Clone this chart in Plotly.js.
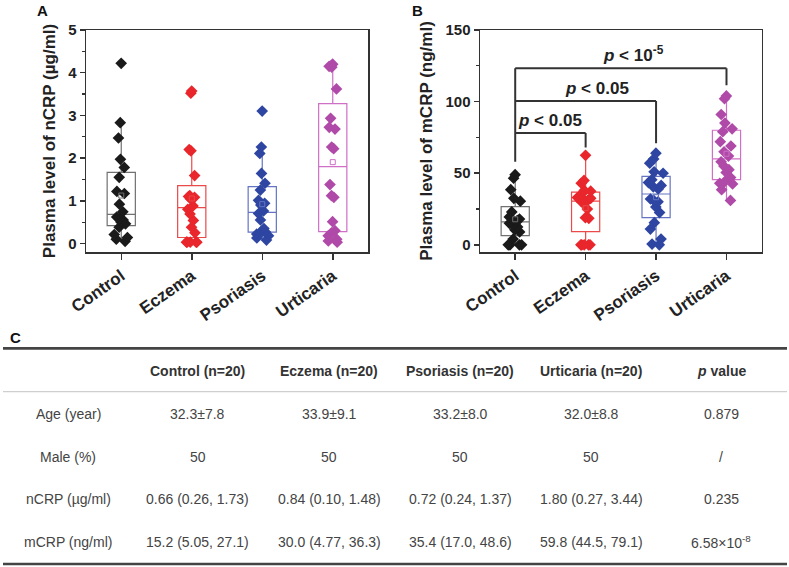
<!DOCTYPE html>
<html><head><meta charset="utf-8">
<script src="https://cdn.plot.ly/plotly-3.0.1.min.js"></script>
<style>html,body{margin:0;padding:0;background:#fff}#chart{width:789px;height:567px}</style>
</head><body><div id="chart"></div>
<script>
// ---------- DATA ----------
const categories = ['Control', 'Eczema', 'Psoriasis', 'Urticaria'];

const nCRP_control   = [4.22, 2.83, 2.47, 1.97, 1.78, 1.55, 1.22, 1.17, 0.92, 0.74, 0.62, 0.58, 0.55, 0.50, 0.46, 0.38, 0.21, 0.14, 0.10, 0.05];
const nCRP_eczema    = [3.57, 3.52, 2.20, 2.17, 1.59, 1.12, 1.10, 1.08, 1.05, 0.88, 0.80, 0.69, 0.54, 0.38, 0.25, 0.03, 0.03, 0.03, 0.03, 0.03];
const nCRP_psoriasis = [3.10, 2.26, 2.11, 1.64, 1.41, 1.25, 1.01, 0.94, 0.90, 0.76, 0.70, 0.55, 0.35, 0.29, 0.27, 0.26, 0.22, 0.18, 0.13, 0.08];
const nCRP_urticaria = [4.20, 4.17, 4.15, 4.13, 3.62, 2.93, 2.72, 2.68, 2.26, 2.22, 1.38, 1.12, 1.08, 0.51, 0.30, 0.25, 0.18, 0.10, 0.06, 0.03];

const mCRP_control   = [49, 46.5, 38.5, 32.5, 30.5, 23, 19.5, 18, 17.5, 17, 15, 14, 12.5, 10.5, 9, 4, 0, 0, 0, 0];
const mCRP_eczema    = [62.5, 45, 43, 38, 37.5, 36, 33, 32.5, 32, 31, 30, 29, 25, 19, 18.5, 0, 0, 0, 0, 0];
const mCRP_psoriasis = [64, 60, 57, 51, 50, 45.5, 43.5, 41.5, 40.5, 39, 32, 31, 30, 26.5, 22.5, 15.5, 11, 4, 0.5, 0];
const mCRP_urticaria = [104, 102, 91, 85, 81, 79, 72, 69, 65, 62, 58, 55, 52.5, 50.5, 47, 44, 43, 42.5, 38.5, 31];

// significance comparisons (panel B): reference group vs target
const sigTargets = ['Eczema', 'Psoriasis', 'Urticaria'];
const sigLevels  = [78, 100.5, 123.3];
const sigEnds    = [68, 71, 111.5];
const sigLabels  = ['<i>p</i> < 0.05', '<i>p</i> < 0.05', '<i>p</i> < 10<sup>-5</sup>'];
const sigRefStart = 58;

// table
const tableHeader = ['', 'Control (n=20)', 'Eczema (n=20)', 'Psoriasis (n=20)', 'Urticaria (n=20)', '<i>p</i> value'];
const rowLabels   = ['Age (year)', 'Male (%)', 'nCRP (µg/ml)', 'mCRP (ng/ml)'];
const rowAge   = ['32.3±7.8', '33.9±9.1', '33.2±8.0', '32.0±8.8', '0.879'];
const rowMale  = ['50', '50', '50', '50', '/'];
const rowNCRP  = ['0.66 (0.26, 1.73)', '0.84 (0.10, 1.48)', '0.72 (0.24, 1.37)', '1.80 (0.27, 3.44)', '0.235'];
const rowMCRP  = ['15.2 (5.05, 27.1)', '30.0 (4.77, 36.3)', '35.4 (17.0, 48.6)', '59.8 (44.5, 79.1)', '6.58×10<sup>-8</sup>'];

// ---------- STYLE / LAYOUT ----------
const W = 789, H = 567;
const FONT = 'Liberation Sans, Arial, sans-serif';
const markerColors = ['#1a1a1a', '#e8262b', '#2e46a2', '#b04aa8'];
const boxColors    = ['#707070', '#ea4a4a', '#6474c2', '#cf6fc6'];
const px = x => x / W;
const py = y => 1 - y / H;

const nData = [nCRP_control, nCRP_eczema, nCRP_psoriasis, nCRP_urticaria];
const mData = [mCRP_control, mCRP_eczema, mCRP_psoriasis, mCRP_urticaria];
const mean = a => a.reduce((s, v) => s + v, 0) / a.length;

const traces = [];
function addPanel(groups, xa, ya) {
  groups.forEach((vals, i) => {
    traces.push({
      type: 'box', y: vals, x: vals.map(() => categories[i]), name: categories[i],
      xaxis: xa, yaxis: ya, boxpoints: 'all', jitter: 0.6, pointpos: 0,
      quartilemethod: 'exclusive', whiskerwidth: 0, width: 0.4,
      fillcolor: 'rgba(0,0,0,0)', line: {color: boxColors[i], width: 1.2},
      marker: {symbol: 'diamond', size: 9, color: markerColors[i]},
      showlegend: false, hoverinfo: 'y'
    });
  });
  traces.push({
    type: 'scatter', mode: 'markers', xaxis: xa, yaxis: ya,
    x: categories, y: groups.map(mean), showlegend: false,
    marker: {symbol: 'square-open', size: 5, color: boxColors, line: {width: 1}}
  });
}
addPanel(nData, 'x', 'y');
addPanel(mData, 'x2', 'y2');

const axisCommon = {
  showline: true, mirror: true, linecolor: '#333', linewidth: 1.5,
  ticks: 'outside', ticklen: 5, tickwidth: 1.5, tickcolor: '#333',
  showgrid: false, zeroline: false,
  tickfont: {family: FONT, size: 15, color: '#222', weight: 'bold'}
};
const xCommon = Object.assign({}, axisCommon, {
  type: 'category', range: [-0.5, 3.5], tickangle: -35, ticklen: 6,
  tickfont: {family: FONT, size: 17, color: '#222', weight: 'bold'}
});

const shapes = [];
const annotations = [];

// brackets panel B
const refIdx = categories.indexOf('Control');
shapes.push({type: 'line', xref: 'x2', yref: 'y2', x0: refIdx, x1: refIdx, y0: sigRefStart, y1: Math.max(...sigLevels), line: {color: '#333', width: 2}});
sigTargets.forEach((t, k) => {
  const ti = categories.indexOf(t);
  shapes.push({type: 'line', xref: 'x2', yref: 'y2', x0: refIdx, x1: ti, y0: sigLevels[k], y1: sigLevels[k], line: {color: '#333', width: 2}});
  shapes.push({type: 'line', xref: 'x2', yref: 'y2', x0: ti, x1: ti, y0: sigLevels[k], y1: sigEnds[k], line: {color: '#333', width: 2}});
});
const sigLabelX = [0.49, 1.16, 1.68];
sigLabels.forEach((t, k) => {
  annotations.push({xref: 'x2', yref: 'y2', x: sigLabelX[k], y: sigLevels[k], yshift: 1,
    text: '<b>' + t + '</b>', showarrow: false, xanchor: 'center', yanchor: 'bottom',
    font: {family: FONT, size: 17, color: '#222'}});
});

// panel letters
[['A', 35, 10], ['B', 410, 10], ['C', 8, 337]].forEach(([t, x, y]) => {
  annotations.push({xref: 'paper', yref: 'paper', x: px(x), y: py(y), text: '<b>' + t + '</b>',
    showarrow: false, xanchor: 'left', yanchor: 'middle', font: {family: FONT, size: 15, color: '#111'}});
});

// table
const colX = [68, 198, 329, 460, 591, 721];
const rowY = [371, 414, 456.7, 499.3, 541.7];
tableHeader.forEach((t, c) => {
  if (!t) return;
  annotations.push({xref: 'paper', yref: 'paper', x: px(colX[c]), y: py(rowY[0]), text: '<b>' + t + '</b>',
    showarrow: false, xanchor: 'center', yanchor: 'middle', font: {family: FONT, size: 14, color: '#333'}});
});
const bodyRows = [rowAge, rowMale, rowNCRP, rowMCRP];
bodyRows.forEach((row, r) => {
  const cells = [rowLabels[r]].concat(row);
  cells.forEach((t, c) => {
    annotations.push({xref: 'paper', yref: 'paper', x: px(colX[c]), y: py(rowY[r + 1]), text: t,
      showarrow: false, xanchor: 'center', yanchor: 'middle', font: {family: FONT, size: 14, color: '#444'}});
  });
});
shapes.push({type: 'line', xref: 'paper', yref: 'paper', x0: px(3), x1: px(787), y0: py(348.3), y1: py(348.3), line: {color: '#444', width: 2.7}});
shapes.push({type: 'line', xref: 'paper', yref: 'paper', x0: px(3), x1: px(787), y0: py(391.7), y1: py(391.7), line: {color: '#cfcfcf', width: 1.2}});
shapes.push({type: 'line', xref: 'paper', yref: 'paper', x0: px(3), x1: px(787), y0: py(564), y1: py(564), line: {color: '#444', width: 2.7}});

const layout = {
  width: W, height: H, margin: {l: 0, r: 0, t: 0, b: 0},
  paper_bgcolor: '#fff', plot_bgcolor: '#fff', showlegend: false,
  boxmode: 'overlay',
  xaxis: Object.assign({}, xCommon, {domain: [px(86), px(368)], anchor: 'y'}),
  yaxis: Object.assign({}, axisCommon, {domain: [py(252), py(30)], anchor: 'x', range: [-0.2, 5], dtick: 1,
    minor: {dtick: 0.5, ticks: 'outside', ticklen: 3, tickcolor: '#333', tickwidth: 1.2},
    title: {text: 'Plasma level of nCRP (µg/ml)', standoff: 8, font: {family: FONT, size: 17, color: '#222', weight: 'bold'}}}),
  xaxis2: Object.assign({}, xCommon, {domain: [px(480), px(761.7)], anchor: 'y2'}),
  yaxis2: Object.assign({}, axisCommon, {domain: [py(252), py(30)], anchor: 'x2', range: [-5, 150], dtick: 50,
    minor: {dtick: 25, ticks: 'outside', ticklen: 3, tickcolor: '#333', tickwidth: 1.2},
    title: {text: 'Plasma level of mCRP (ng/ml)', standoff: 8, font: {family: FONT, size: 17, color: '#222', weight: 'bold'}}}),
  shapes: shapes, annotations: annotations
};

Plotly.newPlot('chart', traces, layout, {displayModeBar: false, staticPlot: true});
</script>
</body></html>
